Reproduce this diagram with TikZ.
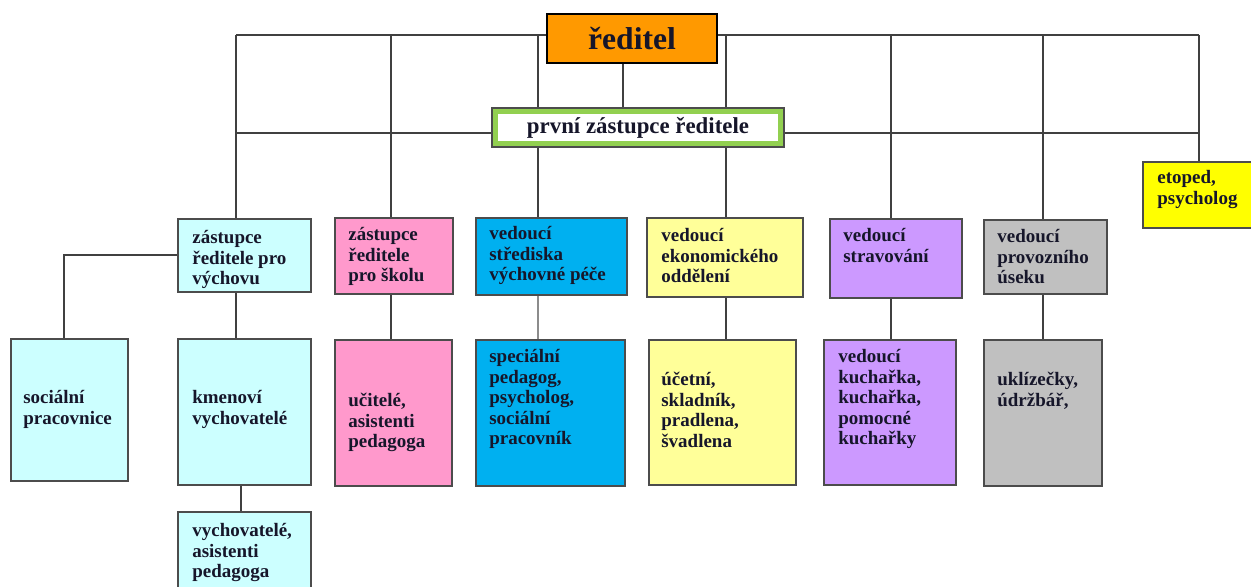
\documentclass[tikz,border=0pt]{standalone}
\usepackage{fontspec}
\setmainfont{Liberation Serif}
\usetikzlibrary{fit,backgrounds}
\definecolor{oranz}{HTML}{FF9900}
\definecolor{zelena}{HTML}{92D050}
\definecolor{svcyan}{HTML}{CCFFFF}
\definecolor{ruzova}{HTML}{FF99CC}
\definecolor{modra}{HTML}{00B0F0}
\definecolor{svzluta}{HTML}{FFFF99}
\definecolor{fialova}{HTML}{CC99FF}
\definecolor{seda}{HTML}{C0C0C0}
\definecolor{zluta}{HTML}{FFFF00}
\definecolor{pismo}{HTML}{16162A}
\tikzset{
  ln/.style={draw=black!75, line width=0.6pt},
  box/.style={draw=black!70, line width=0.7pt, inner sep=0pt},
  txt/.style={anchor=north west, inner sep=0pt, align=left, text=pismo,
    font=\fontsize{10.8}{11.7}\selectfont\bfseries,
    execute at begin node={\rule{0pt}{10pt}}}
}
\begin{document}
\begin{tikzpicture}[x=0.02cm,y=-0.02cm]
\useasboundingbox (0,0) rectangle (1251,586);
% body na sbernicich
\foreach \x/\n in {236/z,391/s,538/v,623/r,726/e,891/k,1043/p,1199/t} {
  \coordinate (b\n) at (\x,35);
  \coordinate (m\n) at (\x,133);
}
\coordinate (so0) at (64,255);
\coordinate (km0) at (241,485);
% vedeni
\node[box, fill=oranz, draw=black, line width=1.2pt, fit={(547,14) (717,63)}] (red) {};
\node[anchor=base, inner sep=0pt, text=pismo, font=\fontsize{18}{20}\selectfont\bfseries] (redt) at (632,49) {ředitel};
\node[box, fill=zelena, fit={(492,108) (784,147)}] (pz) {};
\node[fill=white, inner sep=0pt, fit={(498,114) (778,141)}] (pzi) {};
\node[anchor=base, inner sep=0pt, text=pismo, font=\fontsize{13}{15}\selectfont\bfseries] (pzt) at (638,133) {první zástupce ředitele};
% druha rada
\node[box, fill=svcyan, fit={(178,219) (311,292)}] (zv) {};
\node[txt] (zvt) at (192,230) {zástupce\\ředitele pro\\výchovu};
\node[box, fill=ruzova, fit={(335,218) (453,294)}] (zs) {};
\node[txt] (zst) at (348,227) {zástupce\\ředitele\\pro školu};
\node[box, fill=modra, fit={(476,218) (627,295)}] (vs) {};
\node[txt] (vst) at (489,226) {vedoucí\\střediska\\výchovné péče};
\node[box, fill=svzluta, fit={(647,218) (803,297)}] (ve) {};
\node[txt] (vet) at (661,228) {vedoucí\\ekonomického\\oddělení};
\node[box, fill=fialova, fit={(830,219) (962,298)}] (vk) {};
\node[txt] (vkt) at (843,228) {vedoucí\\stravování};
\node[box, fill=seda, fit={(984,220) (1107,294)}] (vp) {};
\node[txt] (vpt) at (997,229) {vedoucí\\provozního\\úseku};
\node[box, fill=zluta, fit={(1143,162) (1253,228)}] (et) {};
\node[txt] (ett) at (1157,170) {etoped,\\psycholog};
% treti rada
\node[box, fill=svcyan, fit={(11,339) (128,481)}] (so) {};
\node[txt] (sot) at (23,390) {sociální\\pracovnice};
\node[box, fill=svcyan, fit={(178,339) (311,485)}] (km) {};
\node[txt] (kmt) at (192,390) {kmenoví\\vychovatelé};
\node[box, fill=ruzova, fit={(335,340) (452,486)}] (uc) {};
\node[txt] (uct) at (348,393) {učitelé,\\asistenti\\pedagoga};
\node[box, fill=modra, fit={(476,340) (625,486)}] (sp) {};
\node[txt] (spt) at (489,349) {speciální\\pedagog,\\psycholog,\\sociální\\pracovník};
\node[box, fill=svzluta, fit={(649,340) (796,485)}] (ucet) {};
\node[txt] (ucett) at (661,372) {účetní,\\skladník,\\pradlena,\\švadlena};
\node[box, fill=fialova, fit={(824,340) (956,485)}] (ku) {};
\node[txt] (kut) at (838,349) {vedoucí\\kuchařka,\\kuchařka,\\pomocné\\kuchařky};
\node[box, fill=seda, fit={(984,340) (1102,486)}] (uk) {};
\node[txt] (ukt) at (997,372) {uklízečky,\\údržbář,};
\node[box, fill=svcyan, fit={(178,512) (311,600)}] (vy) {};
\node[txt] (vyt) at (192,523) {vychovatelé,\\asistenti\\pedagoga};
% spojnice
\begin{scope}[on background layer]
  \draw[ln] (bz) -- (bt);
  \draw[ln] (mz) -- (mt);
  \draw[ln] (br |- red.south) -- (br |- pz.north);
  \draw[ln] (bz) -- (bz |- zv.north);
  \draw[ln] (bs) -- (bs |- zs.north);
  \draw[ln] (bv) -- (bv |- vs.north);
  \draw[ln] (be) -- (be |- ve.north);
  \draw[ln] (bk) -- (bk |- vk.north);
  \draw[ln] (bp) -- (bp |- vp.north);
  \draw[ln] (bt) -- (bt |- et.north);
  \draw[ln] (so0 -| zv.west) -- (so0) -- (so0 |- so.north);
  \draw[ln] (bz |- zv.south) -- (bz |- km.north);
  \draw[ln] (km0) -- (km0 |- vy.north);
  \draw[ln] (bs |- zs.south) -- (bs |- uc.north);
  \draw[ln, draw=black!45] (bv |- vs.south) -- (bv |- sp.north);
  \draw[ln] (be |- ve.south) -- (be |- ucet.north);
  \draw[ln] (bk |- vk.south) -- (bk |- ku.north);
  \draw[ln] (bp |- vp.south) -- (bp |- uk.north);
\end{scope}
\end{tikzpicture}
\end{document}
